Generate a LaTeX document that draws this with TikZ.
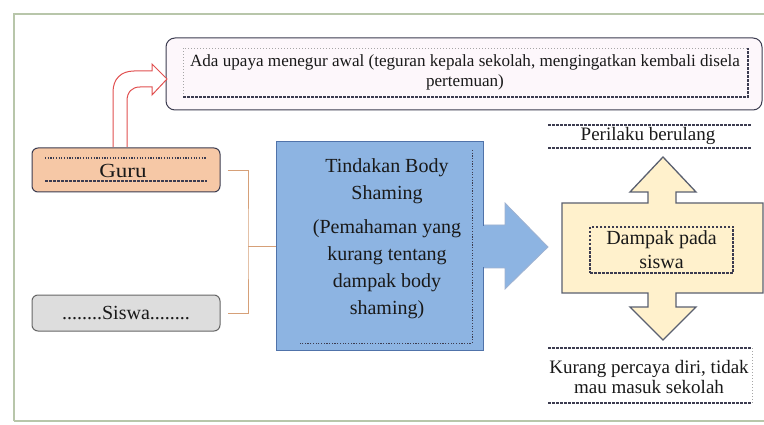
\documentclass[tikz,border=0pt]{standalone}
\usepackage{fontspec}
\setmainfont{Liberation Serif}
\definecolor{framec}{RGB}{184,198,170}
\definecolor{topfill}{RGB}{253,247,251}
\definecolor{darkedge}{RGB}{60,60,80}
\definecolor{guruf}{RGB}{246,200,166}
\definecolor{siswaf}{RGB}{221,221,221}
\definecolor{brk}{RGB}{214,160,120}
\definecolor{bluef}{RGB}{141,180,226}
\definecolor{bluee}{RGB}{80,115,170}
\definecolor{yelf}{RGB}{255,241,204}
\definecolor{yele}{RGB}{90,96,112}
\definecolor{redc}{RGB}{225,80,80}
\definecolor{txt}{RGB}{25,25,25}
\begin{document}
\begin{tikzpicture}[x=1pt,y=-1pt,
  every node/.style={text=txt},
  boxbase/.style={draw=darkedge,line width=1pt,rounded corners=6pt,inner sep=0pt},
  gurubox/.style={boxbase,fill=guruf,minimum width=188pt,minimum height=44pt},
  siswabox/.style={boxbase,draw=gray!80!black,fill=siswaf,minimum width=188pt,minimum height=36pt},
  dashln/.style={dash pattern=on 2.5pt off 1.5pt,line width=1.1pt,draw=darkedge},
  dotln/.style={dash pattern=on 1.2pt off 1.5pt,line width=1.1pt,draw=darkedge},
  lightdash/.style={dash pattern=on 1pt off 2pt,line width=0.7pt,draw=gray!70},
  bracketline/.style={draw=brk,line width=0.9pt},
  bigtxt/.style={font=\fontsize{20}{27}\selectfont,align=center,inner sep=0pt},
  midtxt/.style={font=\fontsize{19}{20}\selectfont,align=center,inner sep=0pt},
]
\useasboundingbox (0,0) rectangle (764,425);
\fill[white] (0,0) rectangle (764,425);
% outer frame
\draw[framec,line width=1.4pt] (14,421) -- (14,14) -- (766,14);
\draw[framec,line width=1.4pt] (14,421) -- (766,421);

% top box
\node[boxbase,rounded corners=9pt,fill=topfill,minimum width=596pt,minimum height=72pt] (topbox) at (464,74) {};
\draw[lightdash] (183,97) -- (183,48) -- (748,48);
\draw[dashln] (183,97) -- (748,97) -- (748,48);
\node[font=\fontsize{17.1}{20}\selectfont,align=center,inner sep=0pt] (toptxt) at (465,72)
  {Ada upaya menegur awal (teguran kepala sekolah, mengingatkan kembali disela\\pertemuan)};

% Guru and Siswa
\node[gurubox] (guru) at (126,170) {};
\draw[dotln] (45,158) -- (207,158);
\draw[dashln] (45,181) -- (207,181);
\node[bigtxt] (gurutxt) at (123,171) {\scalebox{1.15}[1]{Guru}};
\node[siswabox] (siswa) at (126,313) {};
\node[bigtxt] (siswatxt) at (126,313) {........Siswa........};

% red bent arrow
\draw[redc,line width=1pt,fill=white,line join=miter]
  (113,147) -- (113,92) .. controls (113,79) and (121,71) .. (134,71)
  -- (152,71) -- (152,64) -- (167,79) -- (152,95) -- (152,87) -- (140,87)
  .. controls (132,87) and (127,92) .. (127,101) -- (127,147);

% blue box + arrow
\draw[bluee!55,line width=0.8pt,fill=bluef] (483,225) -- (505,225) -- (505,203) -- (548,247)
  -- (505,289) -- (505,268) -- (483,268);
\node[draw=bluee,line width=1pt,fill=bluef,minimum width=207pt,minimum height=208pt,inner sep=0pt] (blue) at (379.5,246) {};
\fill[bluef] (480,226) rectangle (487,267);
\draw[bluee!70!black,dotln,line width=0.9pt] (472,150) -- (472,343) -- (300,343);
\node[bigtxt] (bluetxt) at (387,181) {Tindakan Body\\Shaming};
\node[bigtxt] (bluetxt2) at (387,269) {(Pemahaman yang\\kurang tentang\\dampak body\\shaming)};

% bracket connector
\coordinate (j) at (248,246);
\draw[bracketline] ([xshift=7pt]guru.east) -| (j) |- ([xshift=7pt]siswa.east);
\draw[bracketline] (j) -- (blue.west);

% yellow double arrow
\draw[yele,line width=1.3pt,fill=yelf,line join=miter]
  (562,203) -- (648,203) -- (648,192) -- (630,192) -- (663,157) -- (696,192) -- (676,192)
  -- (676,203) -- (763,203) -- (763,293) -- (676,293) -- (676,307) -- (696,307)
  -- (663,340) -- (630,307) -- (648,307) -- (648,293) -- (562,293) -- cycle;
\node[dashln,draw,minimum width=143pt,minimum height=46pt,inner sep=0pt] (dbox) at (661.5,250) {};
\node[bigtxt,font=\fontsize{20}{24}\selectfont] (dtxt) at (661.5,250) {Dampak pada\\siswa};

% Perilaku berulang
\draw[dashln] (548,125) -- (752,125);
\draw[dashln] (548,148) -- (752,148);
\node[midtxt] (perilaku) at (648,136) {Perilaku berulang};

% Kurang percaya diri
\draw[dashln] (548,348) -- (752,348);
\draw[dashln] (548,403) -- (752,403);
\draw[lightdash] (752,348) -- (752,403);
\node[midtxt] (kurang) at (649,377) {Kurang percaya diri, tidak\\mau masuk sekolah};
\end{tikzpicture}
\end{document}
